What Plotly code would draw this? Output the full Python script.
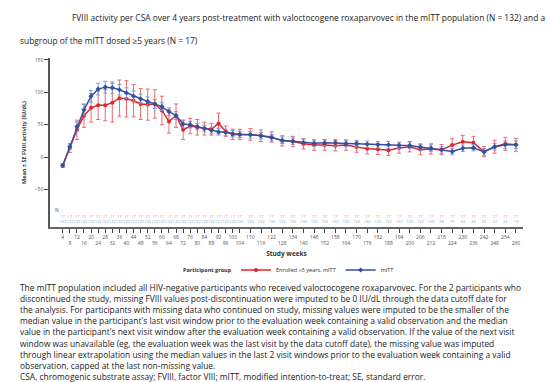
import plotly.graph_objects as go

# ---------------- data ----------------
weeks = [4, 8, 12, 16, 20, 24, 28, 32, 36, 40, 44, 48, 52, 56, 60, 64, 68, 72, 76, 80,
         84, 88, 92, 96, 100, 104,
         110, 116, 122, 128, 134, 140, 146, 152, 158, 164, 170, 176, 182, 188, 194, 200,
         206, 212, 218, 224, 230, 236, 242, 248, 254, 260]

mitt_mean = [-13, 16, 47, 73, 94, 105, 108, 107, 104, 99, 94, 90, 86, 82, 78, 70, 64, 51, 50, 47,
             44, 41, 39, 38, 36, 35,
             34.5, 33, 30, 26, 24.5, 22.5, 21.5, 22, 22, 21, 20.7, 19.8, 19.1, 19, 18.1, 18,
             15.5, 13.9, 11, 8.5, 13.5, 14.5, 8, 16, 19, 19]
mitt_se = [2, 4, 7, 8, 9, 9, 9, 9, 8, 8, 8, 7, 7, 7, 6, 6, 6, 6, 5, 5,
           5, 5, 5, 5, 5, 5,
           5, 5, 5, 5, 5, 5, 5, 5, 5, 5, 5, 5, 5, 5, 5, 5,
           5, 5, 5, 5, 5, 5, 5, 5, 6, 6]

sub_mean = [-13, 14, 42, 64, 76, 80, 80, 84, 91, 90, 87, 82, 81, 82, 72, 55, 64, 42, 48, 46,
            44, 43, 52, 40, 35, 35,
            35, 33, 31, 25, 24, 20.5, 18.5, 18.5, 17.5, 18.5, 15.5, 13, 12, 10.5, 14, 16,
            11.5, 12.5, 11.5, 18.5, 23.5, 22, 8.5, 16, 20.5, 19]
sub_se = [3, 7, 15, 18, 22, 22, 24, 30, 28, 28, 25, 24, 24, 22, 22, 18, 18, 15, 12, 12,
          10, 9, 16, 8, 8, 8,
          9, 9, 8, 8, 8, 8, 8, 8, 8, 8, 8, 8, 8, 8, 8, 8,
          8, 8, 8, 10, 10, 10, 8, 10, 10, 10]

sub_n = [17, 17, 17, 17, 17, 17, 17, 17, 17, 17, 17, 17, 17, 17, 17, 17, 17, 17, 17, 17,
         17, 17, 17, 17, 17, 17,
         17, 17, 17, 17, 17, 17, 17, 17, 17, 17, 17, 17, 17, 17, 17, 17,
         17, 17, 17, 17, 17, 17, 17, 17, 17, 17]
mitt_n = [132, 132, 132, 132, 132, 132, 132, 132, 132, 132, 132, 132, 132, 132, 132, 132, 132, 132, 132, 132,
          132, 132, 132, 132, 132, 132,
          132, 132, 132, 132, 132, 132, 132, 132, 132, 132, 132, 132, 132, 132, 132, 132,
          132, 120, 98, 75, 54, 40, 33, 27, 22, 19]

y_ticks = [150, 100, 50, 0, -50]

series_names = ["Enrolled ≥5 years, mITT", "mITT"]
legend_title = "Participant group"

title_lines = [
    "FVIII activity per CSA over 4 years post-treatment with valoctocogene roxaparvovec in the mITT population (N = 132) and a",
    "subgroup of the mITT dosed ≥5 years (N = 17)",
]
foot_lines = [
    "The mITT population included all HIV-negative participants who received valoctocogene roxaparvovec. For the 2 participants who",
    "discontinued the study, missing FVIII values post-discontinuation were imputed to be 0 IU/dL through the data cutoff date for",
    "the analysis. For participants with missing data who continued on study, missing values were imputed to be the smaller of the",
    "median value in the participant's last visit window prior to the evaluation week containing a valid observation and the median",
    "value in the participant's next visit window after the evaluation week containing a valid observation. If the value of the next visit",
    "window was unavailable (eg, the evaluation week was the last visit by the data cutoff date), the missing value was imputed",
    "through linear extrapolation using the median values in the last 2 visit windows prior to the evaluation week containing a valid",
    "observation, capped at the last non-missing value.",
    "CSA, chromogenic substrate assay; FVIII, factor VIII; mITT, modified intention-to-treat; SE, standard error.",
]

# ---------------- style ----------------
RED = "#e2242c"
RED_ERR = "#ea6a6e"
BLUE = "#34519f"
BLUE_ERR = "#7f9bd3"
FONT = "Open Sans"
W, H = 550, 382
ML, MR, MT, MB = 50, 27, 58, 155
PW = W - ML - MR
PH = H - MT - MB
ROW_SUB = -93
ROW_MITT = -101


def px_x(p):
    return (p - ML) / PW


def px_y(p):
    return (H - MB - p) / PH


fig = go.Figure()
fig.add_trace(go.Scatter(
    x=weeks, y=sub_mean, name=series_names[0], mode="lines+markers",
    line=dict(color=RED, width=1.5), marker=dict(color=RED, size=4),
    error_y=dict(type="data", array=sub_se, color=RED_ERR, thickness=1, width=2),
))
fig.add_trace(go.Scatter(
    x=weeks, y=mitt_mean, name=series_names[1], mode="lines+markers",
    line=dict(color=BLUE, width=1.5), marker=dict(color=BLUE, size=4, symbol="diamond"),
    error_y=dict(type="data", array=mitt_se, color=BLUE_ERR, thickness=1, width=2),
))
fig.add_trace(go.Scatter(
    x=weeks, y=[ROW_SUB] * len(weeks), text=[str(v) for v in sub_n], mode="text",
    textfont=dict(size=4, color="#e58a8a", family=FONT), showlegend=False, hoverinfo="skip",
))
fig.add_trace(go.Scatter(
    x=weeks, y=[ROW_MITT] * len(weeks), text=[str(v) for v in mitt_n], mode="text",
    textfont=dict(size=4, color="#86a9c6", family=FONT), showlegend=False, hoverinfo="skip",
))

ticktext = [str(w) if i % 2 == 0 else "<br>" + str(w) for i, w in enumerate(weeks)]

fig.update_layout(
    width=W, height=H,
    margin=dict(l=ML, r=MR, t=MT, b=MB),
    paper_bgcolor="white", plot_bgcolor="white",
    font=dict(family=FONT, color="#333"),
    showlegend=True,
    legend=dict(
        orientation="h", x=px_x(236), xanchor="left", y=px_y(270), yanchor="middle",
        font=dict(size=5.5, color="#333"), itemwidth=30, tracegroupgap=0,
        bgcolor="rgba(0,0,0,0)",
    ),
    xaxis=dict(
        range=[-3.2, 264], tickmode="array", tickvals=weeks, ticktext=ticktext,
        tickangle=0,
        tickfont=dict(size=5, color="#555"), ticks="outside", ticklen=4, tickwidth=1,
        tickcolor="#444", showline=True, linecolor="#666", linewidth=1.5,
        showgrid=False, zeroline=False,
        title=dict(text="<b>Study weeks</b>", font=dict(size=6.5, color="#333"), standoff=6),
    ),
    yaxis=dict(
        range=[-108, 153], tickmode="array", tickvals=y_ticks,
        tickfont=dict(size=5, color="#555"), ticks="outside", ticklen=4, tickwidth=1,
        tickcolor="#444", showline=True, linecolor="#555", linewidth=1.5,
        showgrid=False, zeroline=False,
        title=dict(text="<b>Mean ± SE FVIII activity (IU/dL)</b>", font=dict(size=5.5, color="#333"), standoff=8),
    ),
)

ann = []
ann.append(dict(text=title_lines[0], x=px_x(70), y=px_y(17), xref="paper", yref="paper",
                xanchor="left", yanchor="middle", showarrow=False,
                font=dict(size=8.4, color="#222", family=FONT)))
ann.append(dict(text=title_lines[1], x=px_x(18), y=px_y(41), xref="paper", yref="paper",
                xanchor="left", yanchor="middle", showarrow=False,
                font=dict(size=8.4, color="#222", family=FONT)))
for i, line in enumerate(foot_lines):
    ann.append(dict(text=line, x=px_x(18), y=px_y(287 + i * 11.2), xref="paper", yref="paper",
                    xanchor="left", yanchor="middle", showarrow=False,
                    font=dict(size=8.4, color="#222", family=FONT)))
ann.append(dict(text="N", x=px_x(57), y=px_y(210), xref="paper", yref="paper",
                xanchor="center", yanchor="middle", showarrow=False,
                font=dict(size=5, color="#555", family=FONT)))
ann.append(dict(text="<b>" + legend_title + "</b>", x=px_x(234), y=px_y(270), xref="paper", yref="paper",
                xanchor="right", yanchor="middle", showarrow=False,
                font=dict(size=5.5, color="#333", family=FONT)))
fig.update_layout(annotations=ann)

fig.write_html("out.html")
